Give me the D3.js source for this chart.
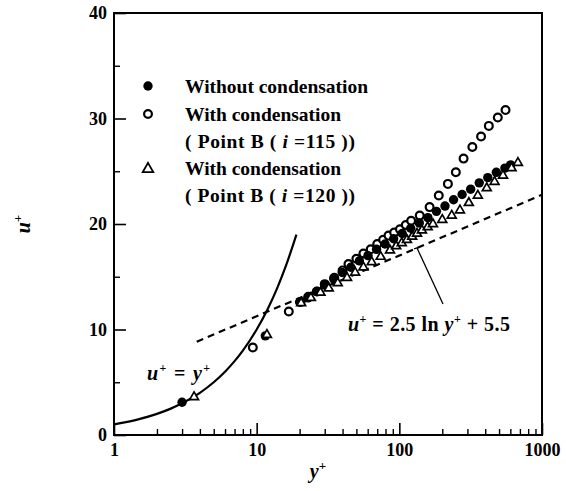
<!DOCTYPE html>
<html><head><meta charset="utf-8">
<script src="https://cdn.jsdelivr.net/npm/d3@7"></script>
<style>body{margin:0;background:#fff}svg{display:block}</style>
</head><body>
<svg id="c" width="566" height="491"></svg>
<script>
// ---- data ----
const withoutX = [3.0, 11.5, 20, 22.9, 26.3, 30.2, 34.7, 39.8, 45.7, 52.5, 60.3, 69.2, 79.4, 91.2, 104.7, 120.2, 138, 158.5, 182, 208.9, 239.9, 275.4, 316.2, 363.1, 416.9, 478.6, 549.5, 602.6];
const withoutU = [3.1, 9.4, 12.6, 13.0, 13.6, 14.2, 14.8, 15.4, 15.9, 16.5, 17.0, 17.6, 18.1, 18.6, 19.1, 19.6, 20.1, 20.6, 21.2, 21.7, 22.3, 22.8, 23.3, 23.9, 24.4, 24.9, 25.3, 25.6];
const with115X = [9.4, 16.8, 20.3, 23, 26.5, 30, 35, 40, 44, 50, 56, 63, 70, 77, 84, 92, 101, 111, 121, 139, 163, 189, 219, 249, 282, 325, 374, 424, 490, 555];
const with115U = [8.3, 11.7, 12.6, 13.1, 13.6, 14.3, 14.9, 15.6, 16.2, 16.7, 17.2, 17.6, 18.1, 18.5, 18.9, 19.2, 19.5, 19.9, 20.3, 20.8, 21.6, 22.7, 23.8, 24.9, 26.2, 27.3, 28.3, 29.3, 30.1, 30.8];
const with120X = [3.64, 11.8, 20.5, 24, 28, 32, 37, 43, 49, 56, 64, 74, 86, 95, 104, 113, 123, 133, 144, 158, 172, 200, 233, 266, 307, 355, 410, 465, 533, 612, 678];
const with120U = [3.6, 9.5, 12.5, 13.0, 13.5, 13.9, 14.4, 14.9, 15.4, 15.9, 16.4, 16.9, 17.5, 17.9, 18.2, 18.5, 18.8, 19.1, 19.4, 19.7, 20.0, 20.4, 20.8, 21.3, 22.0, 22.7, 23.4, 24.0, 24.6, 25.3, 25.8];
// viscous sublayer u+ = y+
const viscousX = [1, 1.5, 2, 2.5, 3, 4, 5, 6, 7, 8, 10, 12, 14, 16, 19];
const viscousU = [1, 1.5, 2, 2.5, 3, 4, 5, 6, 7, 8, 10, 12, 14, 16, 19];
// log law u+ = 2.5 ln y+ + 5.5 (straight on log axis)
const logLawX = [3.8, 1000];
const logLawU = [8.84, 22.77];
const logLawPointerX = 133, logLawPointerU = 17.73;
const xTicks = [1, 10, 100, 1000];
const xMinor = [2,3,4,5,6,7,8,9,20,30,40,50,60,70,80,90,200,300,400,500,600,700,800,900];
const yTicks = [0, 10, 20, 30, 40];
const yMinor = [5, 15, 25, 35];
const legendLabels = ["Without condensation", "With condensation", "115", "With condensation", "120"];

// ---- chart ----
const svg = d3.select("#c");
const x = d3.scaleLog().domain([1, 1000]).range([114, 542]);
const y = d3.scaleLinear().domain([0, 40]).range([435, 13]);
const FONT = "'Liberation Serif','Times New Roman',serif";

// frame
svg.append("rect").attr("x", x(1)).attr("y", y(40))
  .attr("width", x(1000) - x(1)).attr("height", y(0) - y(40))
  .attr("fill", "none").attr("stroke", "#000").attr("stroke-width", 2);

// x axis
const gx = svg.append("g").attr("transform", `translate(0,${y(0)})`)
  .call(d3.axisBottom(x).tickValues(xTicks).tickSize(-12).tickPadding(8).tickFormat(d3.format("d")));
gx.select(".domain").remove();
gx.selectAll("line").attr("stroke-width", 1.6);
gx.selectAll("text").attr("font-family", FONT).attr("font-weight", "bold").attr("font-size", 18).attr("fill", "#000");
const gxm = svg.append("g").attr("transform", `translate(0,${y(0)})`)
  .call(d3.axisBottom(x).tickValues(xMinor).tickSize(-6).tickFormat(""));
gxm.select(".domain").remove();
gxm.selectAll("line").attr("stroke-width", 1.4);

// y axis
const gy = svg.append("g").attr("transform", `translate(${x(1)},0)`)
  .call(d3.axisLeft(y).tickValues(yTicks).tickSize(-12).tickPadding(7));
gy.select(".domain").remove();
gy.selectAll("line").attr("stroke-width", 1.6);
gy.selectAll("text").attr("font-family", FONT).attr("font-weight", "bold").attr("font-size", 18).attr("fill", "#000");
const gym = svg.append("g").attr("transform", `translate(${x(1)},0)`)
  .call(d3.axisLeft(y).tickValues(yMinor).tickSize(-6).tickFormat(""));
gym.select(".domain").remove();
gym.selectAll("line").attr("stroke-width", 1.4);

// axis titles
const xt = svg.append("text").attr("x", 318).attr("y", 478).attr("text-anchor", "middle")
  .attr("font-family", FONT).attr("font-size", 20).attr("font-style", "italic").attr("font-weight", "bold");
xt.append("tspan").text("y");
xt.append("tspan").attr("dy", -8).attr("font-size", 13).attr("font-style", "normal").text("+");
const yt = svg.append("text").attr("transform", "translate(30,224) rotate(-90)").attr("text-anchor", "middle")
  .attr("font-family", FONT).attr("font-size", 20).attr("font-style", "italic").attr("font-weight", "bold");
yt.append("tspan").text("u");
yt.append("tspan").attr("dy", -8).attr("font-size", 13).attr("font-style", "normal").text("+");

// lines
const zip = (a, b) => a.map((v, i) => [v, b[i]]);
svg.append("path").datum(zip(viscousX, viscousU))
  .attr("d", d3.line().x(d => x(d[0])).y(d => y(d[1])).curve(d3.curveMonotoneX))
  .attr("fill", "none").attr("stroke", "#000").attr("stroke-width", 2.2);
svg.append("path").datum(zip(logLawX, logLawU)).attr("d", d3.line().x(d => x(d[0])).y(d => y(d[1])))
  .attr("fill", "none").attr("stroke", "#000").attr("stroke-width", 2.2).attr("stroke-dasharray", "7,5");

// markers
const plot = svg.append("g");
plot.selectAll(".o115").data(zip(with115X, with115U)).join("circle")
  .attr("cx", d => x(d[0])).attr("cy", d => y(d[1])).attr("r", 3.9)
  .attr("fill", "#fff").attr("stroke", "#000").attr("stroke-width", 2.2);
plot.selectAll(".wo").data(zip(withoutX, withoutU)).join("circle")
  .attr("cx", d => x(d[0])).attr("cy", d => y(d[1])).attr("r", 4.7)
  .attr("fill", "#000");
const tri = d3.symbol().type(d3.symbolTriangle).size(34);
plot.selectAll(".t120").data(zip(with120X, with120U)).join("path")
  .attr("transform", d => `translate(${x(d[0])},${y(d[1])})`).attr("d", tri)
  .attr("fill", "#fff").attr("stroke", "#000").attr("stroke-width", 1.7);

// legend
const lg = svg.append("g").attr("font-family", FONT).attr("font-weight", "bold").attr("font-size", 19.5);
const lx = 148, tx = 185;
lg.append("circle").attr("cx", lx).attr("cy", 86).attr("r", 4.7).attr("fill", "#000");
lg.append("circle").attr("cx", lx).attr("cy", 114).attr("r", 3.9).attr("fill", "#fff").attr("stroke", "#000").attr("stroke-width", 2.2);
lg.append("path").attr("transform", `translate(${lx},169)`).attr("d", d3.symbol().type(d3.symbolTriangle).size(48))
  .attr("fill", "#fff").attr("stroke", "#000").attr("stroke-width", 1.8);
const rowY = [86, 114, 141, 168, 195];
const rowW = [183, 156, 170, 156, 170];
legendLabels.forEach((lab, i) => {
  const t = lg.append("text").attr("x", tx).attr("y", rowY[i]).attr("dy", "0.35em")
    .attr("textLength", rowW[i]).attr("lengthAdjust", "spacing");
  if (i === 2 || i === 4) {
    t.append("tspan").text("( Point B ( ");
    t.append("tspan").attr("font-style", "italic").text("i");
    t.append("tspan").text(" =" + lab + " ))");
  } else t.text(lab);
});

// annotations
const a1 = svg.append("text").attr("x", 147).attr("y", 380).attr("font-family", FONT).attr("font-weight", "bold").attr("font-size", 20)
  .attr("textLength", 63).attr("lengthAdjust", "spacing");
a1.append("tspan").attr("font-style", "italic").text("u");
a1.append("tspan").attr("dy", -8).attr("font-size", 12).text("+");
a1.append("tspan").attr("dy", 8).text(" = ");
a1.append("tspan").attr("font-style", "italic").text("y");
a1.append("tspan").attr("dy", -8).attr("font-size", 12).text("+");

const a2 = svg.append("text").attr("x", 348).attr("y", 331).attr("font-family", FONT).attr("font-weight", "bold").attr("font-size", 20)
  .attr("textLength", 162).attr("lengthAdjust", "spacing");
a2.append("tspan").attr("font-style", "italic").text("u");
a2.append("tspan").attr("dy", -8).attr("font-size", 12).text("+");
a2.append("tspan").attr("dy", 8).text(" = 2.5 ln ");
a2.append("tspan").attr("font-style", "italic").text("y");
a2.append("tspan").attr("dy", -8).attr("font-size", 12).text("+");
a2.append("tspan").attr("dy", 8).text(" + 5.5");

// leader line
const px = x(logLawPointerX), py = y(logLawPointerU);
svg.append("line").attr("x1", px).attr("y1", py).attr("x2", px + 26).attr("y2", py + 56)
  .attr("stroke", "#000").attr("stroke-width", 1.3);
svg.append("line").attr("x1", px - 3).attr("y1", py + 1).attr("x2", px + 3).attr("y2", py - 1)
  .attr("stroke", "#000").attr("stroke-width", 1.3);
</script>
</body></html>
